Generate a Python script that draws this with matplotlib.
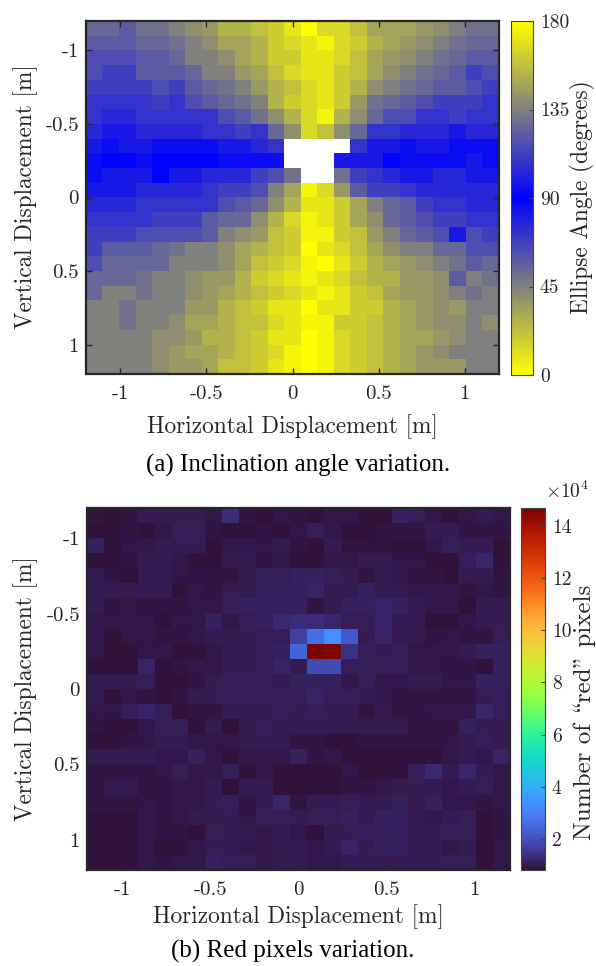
import numpy as np
import matplotlib
matplotlib.use("Agg")
import matplotlib.pyplot as plt
from matplotlib.colors import LinearSegmentedColormap, Normalize

plt.rcParams['font.family'] = ['cmr10', 'DejaVu Serif']
plt.rcParams['mathtext.fontset'] = 'cm'
plt.rcParams['axes.unicode_minus'] = False
plt.rcParams['axes.formatter.use_mathtext'] = True

# ---------------- data ----------------
x_extent = [-1.2, 1.2]
y_extent = [-1.2, 1.2]
x_ticks = [-1, -0.5, 0, 0.5, 1]
x_tick_labels = ["-1", "-0.5", "0", "0.5", "1"]
y_ticks = [-1, -0.5, 0, 0.5, 1]
y_tick_labels = ["-1", "-0.5", "0", "0.5", "1"]
angle_ticks = [0, 45, 90, 135, 180]
red_ticks = [2, 4, 6, 8, 10, 12, 14]
nan = np.nan

# Ellipse angle (degrees), 24 rows (top -> bottom) x 25 columns (left -> right)
angle_rows = [
    [126,126,122,130,130,135,140,144,153,153,158,162,171, 0,14,14,22,32,32,32,36,40,45,50,50],
    [122,122,122,126,126,130,135,140,148,148,153,162,166, 9,4,14,18,27,32,36,40,45,50,54,54],
    [117,117,117,122,122,126,135,135,140,148,153,162,162, 9,9,14,22,32,36,40,45,50,54,58,58],
    [117,112,112,122,122,122,126,135,135,144,148,158,166, 9,9,18,22,32,40,45,50,54,58,68,63],
    [112,112,112,112,117,112,122,126,130,135,144,153,158, 14,9,18,27,40,45,50,54,58,58,63,68],
    [108,108,108,108,112,108,117,122,126,130,135,153,162, 14,9,18,36,50,54,58,63,68,68,68,72],
    [108,104,104,108,108,108,108,108,117,122,130,140,153, 14,4,27,40,54,63,63,72,72,68,72,72],
    [104,99,99,104,104,104,104,108,108,112,108,126,140, 14,22,40,54,72,72,76,76,76,81,76,76],
    [99,94,99,99,94,94,94,94,99,99,104,108,nan, nan,nan,nan,72,81,81,86,81,81,86,86,86],
    [94,90,90,94,90,90,90,90,94,94,94,94,nan, nan,nan,81,81,81,90,86,86,86,86,81,86],
    [94,99,99,99,90,99,99,104,104,104,112,117,130, nan,nan,50,68,72,76,81,81,76,76,81,81],
    [99,99,99,104,104,104,104,108,112,112,117,135,148, 4,14,36,58,68,68,72,76,76,76,76,76],
    [104,104,104,108,108,108,108,108,117,122,126,140,153, 9,9,18,32,45,54,58,68,72,72,76,76],
    [108,108,108,108,112,112,112,122,126,126,140,153,166, 4,9,18,32,40,54,58,63,68,68,72,72],
    [112,112,112,117,117,117,117,122,135,140,144,158,162, 4,4,18,22,36,45,54,58,63,81,63,68],
    [112,122,122,122,126,130,135,135,140,148,153,158,162, 0,9,14,22,32,40,45,45,54,54,63,63],
    [117,126,126,126,126,135,135,135,140,148,158,162,166, 4,0,9,18,27,32,36,40,45,50,58,54],
    [126,126,126,130,135,135,140,144,144,153,162,166,171, 4,9,14,22,27,27,36,36,40,58,45,50],
    [126,135,135,130,135,135,140,144,148,153,158,162,166, 9,4,9,18,22,32,36,36,40,45,50,45],
    [135,135,130,135,135,135,144,144,153,158,162,171,171, 0,9,9,18,18,27,32,36,40,36,45,45],
    [135,135,130,135,135,140,148,148,153,158,158,166,171, 4,4,18,18,22,27,32,36,40,40,45,40],
    [135,135,135,135,140,140,144,153,153,158,162,171,171, 0,4,14,18,22,27,32,32,36,40,45,45],
    [135,135,135,135,140,144,148,148,153,158,162,166,176, 0,4,14,18,22,27,32,36,40,45,45,45],
    [135,135,135,135,140,144,144,148,158,158,162,171,176, 0,4,14,18,22,27,32,36,36,36,45,45],
]

# Number of "red" pixels (x 10^4), 24 rows x 25 columns
red_rows = [
    [0.90,0.85,0.90,1.00,1.00,1.00,1.00,0.95,1.30,0.90,0.80,0.95,0.90,0.85,0.95,0.95,0.85,0.85,1.10,1.05,0.95,0.85,0.95,1.00,0.95],
    [0.85,0.85,0.90,0.80,0.95,1.05,1.05,0.90,0.80,0.80,0.90,0.80,0.95,1.05,0.95,0.85,0.85,0.90,0.90,0.90,1.00,1.00,0.90,0.90,0.90],
    [1.10,0.85,0.95,0.95,1.00,1.00,1.00,0.85,0.95,0.95,0.95,1.00,0.90,0.80,1.00,0.90,0.90,0.90,0.85,0.85,0.95,1.05,1.00,1.00,0.80],
    [0.80,0.85,0.90,1.00,1.00,0.95,0.80,0.80,1.00,1.00,0.90,0.95,0.85,0.85,0.95,0.95,1.00,1.00,0.95,0.95,0.85,0.85,1.05,1.20,0.85],
    [1.00,0.90,0.85,1.00,1.00,0.95,0.90,0.90,0.90,1.00,1.05,1.05,1.10,1.10,1.05,1.00,0.90,1.00,0.95,0.90,0.90,0.85,1.00,1.00,0.90],
    [1.00,1.00,1.00,1.00,1.00,0.80,0.95,0.90,1.00,1.00,1.10,1.10,1.10,1.15,1.00,1.00,1.10,1.00,1.00,0.95,0.95,0.95,0.90,0.95,0.90],
    [1.00,0.90,0.95,0.90,0.90,0.90,0.95,0.95,1.05,1.10,1.10,1.10,1.10,0.90,1.00,1.10,1.10,1.15,1.10,1.00,0.95,0.95,0.85,1.00,1.00],
    [0.95,0.95,0.95,0.95,0.85,0.95,0.95,1.10,0.95,1.05,1.10,1.25,1.30,1.30,1.20,1.05,1.05,1.15,1.00,1.00,0.85,0.85,0.95,1.00,1.00],
    [0.95,0.85,0.95,0.95,0.90,0.90,0.95,1.00,1.00,1.00,1.05,1.05,1.70,2.60,3.30,2.20,1.00,1.15,1.00,1.00,0.90,0.95,0.90,0.90,1.05],
    [0.95,0.85,0.85,0.95,0.95,0.85,0.85,0.95,1.00,1.00,1.05,1.10,2.40,14.70,14.60,1.40,1.05,1.00,1.05,0.95,0.95,0.95,1.00,1.10,1.10],
    [0.85,0.80,0.85,1.15,0.85,0.90,0.95,0.95,1.00,1.00,1.05,1.15,1.00,1.90,1.90,1.05,1.05,1.05,1.05,0.95,0.95,0.90,0.90,0.85,1.10],
    [1.00,1.00,1.00,1.05,0.85,0.85,0.90,1.00,1.05,1.05,1.05,1.00,1.10,1.10,1.10,0.95,1.05,0.95,0.95,1.00,1.00,0.95,0.95,1.10,1.10],
    [1.00,0.85,0.95,0.90,0.85,0.90,1.00,1.00,1.05,1.05,1.05,1.05,1.05,1.15,1.05,1.05,1.00,0.95,0.90,0.90,0.90,0.90,0.90,1.00,1.05],
    [0.95,0.95,1.05,1.15,1.05,0.85,0.90,0.90,1.00,1.00,1.00,1.05,1.00,1.05,1.00,1.00,0.90,1.00,0.90,0.90,0.95,0.95,0.95,1.20,1.05],
    [0.90,0.85,0.85,0.95,1.05,1.05,0.85,1.00,0.80,1.00,1.05,1.00,1.00,1.00,1.00,1.00,1.00,1.00,1.00,0.90,0.90,0.90,1.10,1.00,1.00],
    [0.85,0.85,0.90,0.95,1.00,1.00,0.95,0.95,0.95,1.00,1.00,1.00,0.90,0.90,0.85,0.85,0.90,0.90,0.90,0.90,0.90,0.95,1.00,1.05,1.00],
    [1.00,1.00,1.00,1.00,0.95,0.95,1.10,0.95,0.85,0.95,0.95,0.95,1.10,0.90,0.95,0.85,0.85,0.85,0.85,0.85,0.85,0.95,1.00,0.95,1.15],
    [0.90,0.90,0.90,0.90,0.95,1.05,0.95,0.95,1.05,0.85,0.95,0.85,0.85,0.85,0.85,0.95,0.80,0.80,0.80,1.05,1.25,1.00,1.20,1.00,0.95],
    [0.90,1.00,1.00,0.90,0.90,0.95,0.95,1.00,0.85,1.00,1.00,0.80,0.80,0.80,0.85,0.90,0.90,0.95,1.00,1.00,1.00,0.95,1.00,1.05,0.95],
    [0.90,0.90,0.90,0.95,0.90,0.95,0.95,1.00,1.05,0.90,1.00,1.20,0.90,1.00,1.00,1.05,1.00,1.00,1.10,1.00,1.10,0.95,0.95,0.90,0.95],
    [0.85,0.85,0.85,0.95,0.90,0.95,1.00,1.00,1.00,0.95,1.05,1.05,1.00,1.05,1.05,1.10,1.00,1.10,1.10,1.00,0.95,1.00,1.05,0.85,0.90],
    [0.85,0.85,0.85,0.95,0.90,0.90,0.85,1.05,1.00,1.00,0.95,1.00,0.95,0.85,1.00,1.00,1.05,1.05,1.05,1.00,1.00,1.05,1.05,0.85,0.90],
    [0.85,0.85,0.85,0.95,0.80,0.85,0.95,1.00,1.00,0.95,0.95,1.00,1.00,0.95,1.00,1.15,1.00,1.10,1.10,1.00,1.00,0.95,1.00,0.85,0.95],
    [0.85,0.85,0.85,0.95,0.90,0.95,0.95,1.10,1.05,1.05,0.95,1.00,1.00,0.95,0.95,1.00,1.00,1.00,1.00,1.00,1.00,1.05,1.05,0.85,0.95],
]

angle = np.array(angle_rows, dtype=float)
red = np.array(red_rows, dtype=float)

# ---------------- figure ----------------
W, H = 596, 966
fig = plt.figure(figsize=(W / 100, H / 100), dpi=100)


def box(l, r, t, b):
    return [l / W, 1 - b / H, (r - l) / W, (b - t) / H]


def fx(px):
    return px / W


def fy(py):
    return 1 - py / H


TICK_FS = 15
CB_TICK_FS = 14
LAB_FS = 16.8
CAP_FS = 18
txt_col = '#262626'
frame_col = '#262626'

ang_cmap = LinearSegmentedColormap.from_list('yb', ['#ffff00', '#0000ff', '#ffff00'], N=256)
ang_cmap.set_bad('white')


def style_axes(ax):
    ax.set_xlim(x_extent)
    ax.set_ylim(y_extent[1], y_extent[0])
    ax.set_xticks(x_ticks)
    ax.set_xticklabels(x_tick_labels)
    ax.set_yticks(y_ticks)
    ax.set_yticklabels(y_tick_labels)
    ax.tick_params(direction='in', length=4, width=1, top=True, right=True,
                   labelsize=TICK_FS, colors=frame_col, labelcolor=txt_col)
    ax.tick_params(axis='x', pad=8)
    ax.tick_params(axis='y', pad=5)
    for s in ax.spines.values():
        s.set_linewidth(1.6)
        s.set_color(frame_col)


def style_cbar(cb, ticks):
    cb.set_ticks(ticks)
    cb.set_ticklabels([str(t) for t in ticks])
    cb.ax.tick_params(direction='in', length=3, labelsize=CB_TICK_FS, colors='#444444',
                      labelcolor=txt_col, pad=5)
    cb.outline.set_edgecolor('#444444')
    cb.outline.set_linewidth(0.8)


# ---- top panel ----
ax1 = fig.add_axes(box(86, 499, 21, 374))
im1 = ax1.imshow(angle, cmap=ang_cmap, vmin=0, vmax=180, aspect='auto',
                 extent=(x_extent[0], x_extent[1], y_extent[1], y_extent[0]),
                 origin='upper', interpolation='nearest')
style_axes(ax1)
cax1 = fig.add_axes(box(511, 533, 21, 375))
cb1 = fig.colorbar(im1, cax=cax1)
style_cbar(cb1, angle_ticks)

fig.text(fx(292), fy(427), 'Horizontal Displacement [m]', fontsize=LAB_FS,
         ha='center', va='center', color=txt_col)
fig.text(fx(26), fy(197), 'Vertical Displacement [m]', fontsize=LAB_FS,
         rotation=90, ha='center', va='center', color=txt_col)
fig.text(fx(582), fy(197), 'Ellipse Angle (degrees)', fontsize=LAB_FS,
         rotation=90, ha='center', va='center', color=txt_col)

# ---- bottom panel ----
ax2 = fig.add_axes(box(87, 510, 508, 870))
im2 = ax2.imshow(red, cmap='turbo', norm=Normalize(vmin=np.nanmin(red), vmax=np.nanmax(red)),
                 aspect='auto',
                 extent=(x_extent[0], x_extent[1], y_extent[1], y_extent[0]),
                 origin='upper', interpolation='nearest')
style_axes(ax2)
cax2 = fig.add_axes(box(521, 545, 508, 870))
cb2 = fig.colorbar(im2, cax=cax2)
style_cbar(cb2, red_ticks)
fig.text(fx(567), fy(491), r'$\times10^4$', fontsize=CB_TICK_FS, ha='center', va='center',
         color=txt_col)

fig.text(fx(298), fy(917), 'Horizontal Displacement [m]', fontsize=LAB_FS,
         ha='center', va='center', color=txt_col)
fig.text(fx(26), fy(689), 'Vertical Displacement [m]', fontsize=LAB_FS,
         rotation=90, ha='center', va='center', color=txt_col)
fig.text(fx(585), fy(712), 'Number of \\red" pixels', fontsize=18,
         rotation=90, ha='center', va='center', color=txt_col)

# ---- captions ----
fig.text(fx(298), fy(465), '(a) Inclination angle variation.', fontsize=CAP_FS,
         family='Liberation Serif', ha='center', va='center', color='black')
fig.text(fx(293), fy(951), '(b) Red pixels variation.', fontsize=CAP_FS,
         family='Liberation Serif', ha='center', va='center', color='black')

fig.savefig('out.png', dpi=100)
